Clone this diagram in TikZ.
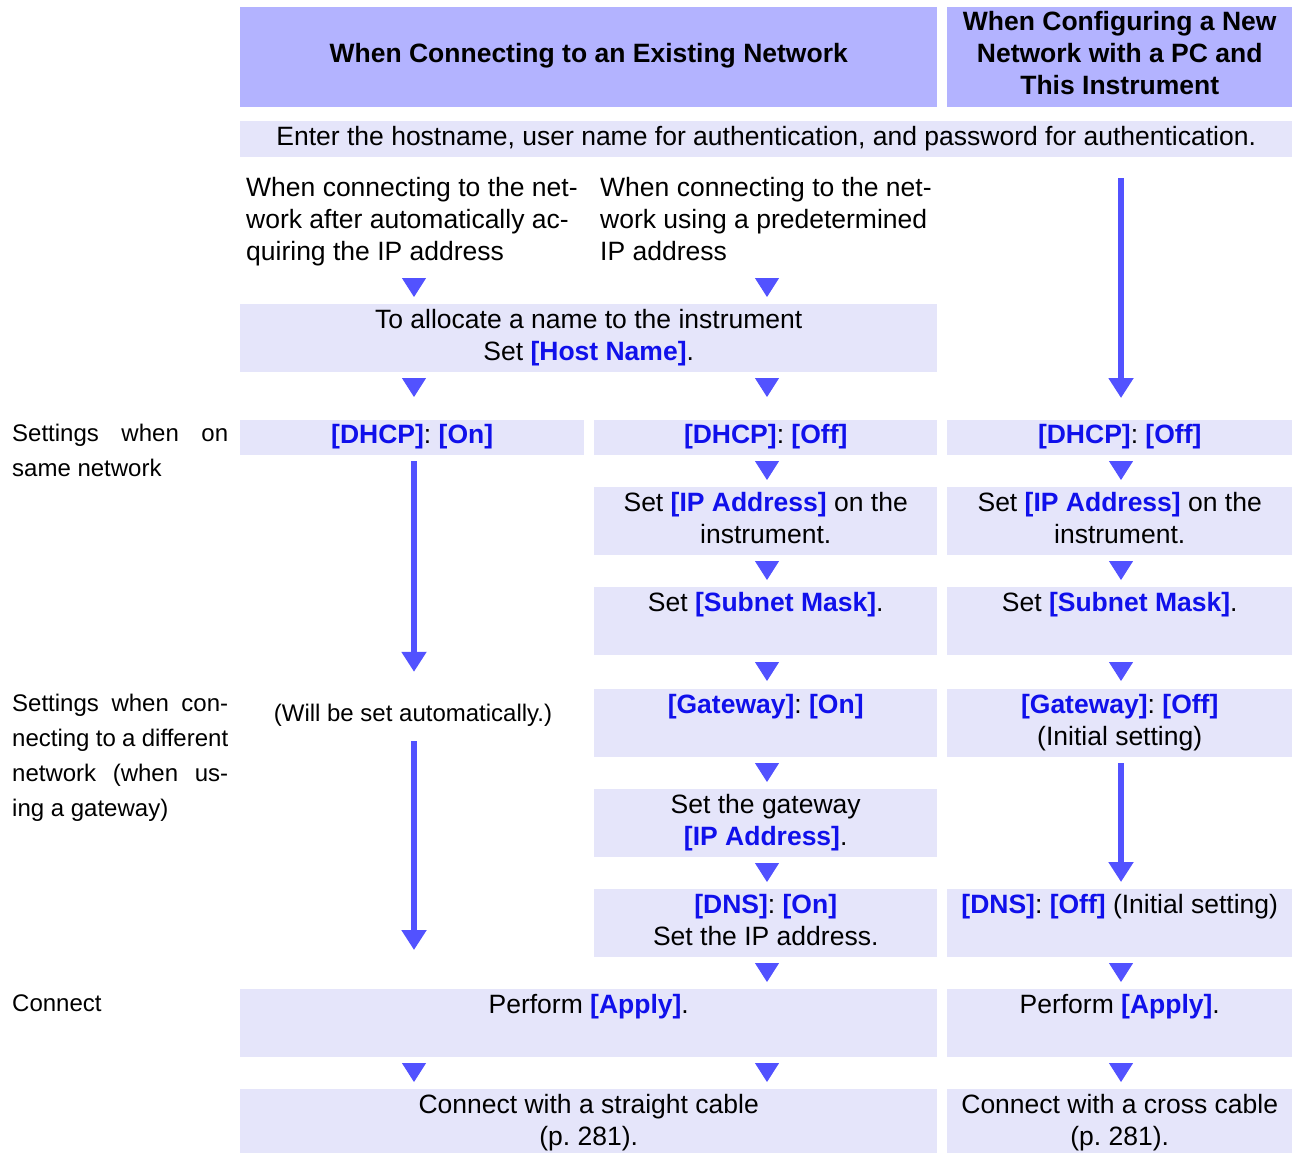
\documentclass[tikz,border=0pt]{standalone}
\usepackage{fontspec}
\setmainfont{Liberation Sans}
\usetikzlibrary{arrows.meta}
\frenchspacing
\definecolor{hdr}{RGB}{179,179,255}
\definecolor{bxf}{RGB}{229,229,250}
\definecolor{arr}{RGB}{82,82,255}
\definecolor{kblue}{RGB}{16,16,235}
\newcommand\kb[1]{\textbf{\color{kblue}#1}}
\newcommand\bxt[4]{\parbox[c][#2][t]{#1}{\centering\rule{0pt}{#3}#4\par}}
\tikzset{
  box/.style={fill=bxf, inner sep=0pt, anchor=north west},
  hbox/.style={fill=hdr, inner sep=0pt, anchor=north west, font=\fontsize{26.5pt}{32pt}\selectfont\bfseries},
  tri/.style={arr, line width=1pt, -{Triangle[width=24pt,length=19pt]}},
  longarr/.style={arr, line width=6pt, -{Triangle[width=24pt,length=20pt]}},
  lbl/.style={inner sep=0pt, anchor=base west, font=\fontsize{24pt}{35pt}\selectfont},
  desc/.style={inner sep=0pt, anchor=base west, text depth=72pt},
}
\begin{document}
\begin{tikzpicture}[x=1pt, y=-1pt, font=\fontsize{26.5pt}{32pt}\selectfont]
\useasboundingbox (0,0) rectangle (1292,1153);
\fill[white] (0,0) rectangle (1292,1153);
\coordinate (cL) at (414,0);
\coordinate (cM) at (767,0);
\coordinate (cR) at (1121,0);

% headers
\node[hbox] (hdrL) at (240,7) {\bxt{697pt}{100pt}{55.5pt}{When Connecting to an Existing Network}};
\node[hbox] (hdrR) at (947,7) {\bxt{345pt}{100pt}{23.5pt}{When Configuring a New\\Network with a PC and\\This Instrument}};
\node[box] (host) at (240,121) {\bxt{1052pt}{36pt}{24pt}{Enter the hostname, user name for authentication, and password for authentication.}};

% descriptions
\node[desc] (descL) at (246,196) {\parbox[t]{340pt}{\raggedright When connecting to the net-\\work after automatically ac-\\quiring the IP address}};
\node[desc] (descM) at (600,196) {\parbox[t]{337pt}{\raggedright When connecting to the net-\\work using a predetermined\\IP address}};

\node[box] (hostnm) at (240,304) {\bxt{697pt}{68pt}{24pt}{To allocate a name to the instrument\\Set \kb{[Host Name]}.}};

% DHCP row
\node[box] (dhcpOn) at (240,420) {\bxt{344pt}{35pt}{23.5pt}{\kb{[DHCP]}: \kb{[On]}}};
\node[box] (dhcpM) at (594,420) {\bxt{343pt}{35pt}{23.5pt}{\kb{[DHCP]}: \kb{[Off]}}};
\node[box] (dhcpR) at (947,420) {\bxt{345pt}{35pt}{23.5pt}{\kb{[DHCP]}: \kb{[Off]}}};

\node[box] (ipM) at (594,487) {\bxt{343pt}{68pt}{24pt}{Set \kb{[IP Address]} on the\\instrument.}};
\node[box] (ipR) at (947,487) {\bxt{345pt}{68pt}{24pt}{Set \kb{[IP Address]} on the\\instrument.}};

\node[box] (subM) at (594,587) {\bxt{343pt}{68pt}{24pt}{Set \kb{[Subnet Mask]}.}};
\node[box] (subR) at (947,587) {\bxt{345pt}{68pt}{24pt}{Set \kb{[Subnet Mask]}.}};

\node[box] (gwM) at (594,689) {\bxt{343pt}{68pt}{24pt}{\kb{[Gateway]}: \kb{[On]}}};
\node[box] (gwR) at (947,689) {\bxt{345pt}{68pt}{24pt}{\kb{[Gateway]}: \kb{[Off]}\\(Initial setting)}};

\node[inner sep=0pt, anchor=base, text height=20pt, text depth=6pt, font=\fontsize{24pt}{30pt}\selectfont] (auto) at (413,721) {(Will be set automatically.)};

\node[box] (gwipM) at (594,789) {\bxt{343pt}{68pt}{24pt}{Set the gateway\\\kb{[IP Address]}.}};

\node[box] (dnsM) at (594,889) {\bxt{343pt}{68pt}{24pt}{\kb{[DNS]}: \kb{[On]}\\Set the IP address.}};
\node[box] (dnsR) at (947,889) {\bxt{345pt}{68pt}{24pt}{\kb{[DNS]}: \kb{[Off]} (Initial setting)}};

\node[box] (applyL) at (240,989) {\bxt{697pt}{68pt}{24pt}{Perform \kb{[Apply]}.}};
\node[box] (applyR) at (947,989) {\bxt{345pt}{68pt}{24pt}{Perform \kb{[Apply]}.}};

\node[box] (cableL) at (240,1089) {\bxt{697pt}{64pt}{24pt}{Connect with a straight cable\\(p. 281).}};
\node[box] (cableR) at (947,1089) {\bxt{345pt}{64pt}{24pt}{Connect with a cross cable\\(p. 281).}};

% left labels
\node[lbl] (lblSame) at (12,441) {\parbox[t]{216pt}{\makebox[216pt][s]{Settings when on}\\same network}};
\node[lbl] (lblDiff) at (12,711) {\parbox[t]{216pt}{\makebox[216pt][s]{Settings when con-}\\\makebox[216pt][s]{necting to a different}\\\makebox[216pt][s]{network (when us-}\\ing a gateway)}};
\node[lbl] (lblConn) at (12,1011) {Connect};

% small triangles
\draw[tri, shorten <=10pt, shorten >=7pt] (descL.south -| cL) -- (hostnm.north -| cL);
\draw[tri, shorten <=10pt, shorten >=7pt] (descM.south -| cM) -- (hostnm.north -| cM);
\draw[tri, shorten <=6pt, shorten >=23pt] (hostnm.south -| cL) -- (dhcpOn.north -| cL);
\draw[tri, shorten <=6pt, shorten >=23pt] (hostnm.south -| cM) -- (dhcpM.north -| cM);
\draw[tri, shorten <=6pt, shorten >=7pt] (dhcpM.south -| cM) -- (ipM.north -| cM);
\draw[tri, shorten <=6pt, shorten >=7pt] (dhcpR.south -| cR) -- (ipR.north -| cR);
\draw[tri, shorten <=6pt, shorten >=7pt] (ipM.south -| cM) -- (subM.north -| cM);
\draw[tri, shorten <=6pt, shorten >=7pt] (ipR.south -| cR) -- (subR.north -| cR);
\draw[tri, shorten <=7pt, shorten >=8pt] (subM.south -| cM) -- (gwM.north -| cM);
\draw[tri, shorten <=7pt, shorten >=8pt] (subR.south -| cR) -- (gwR.north -| cR);
\draw[tri, shorten <=6pt, shorten >=7pt] (gwM.south -| cM) -- (gwipM.north -| cM);
\draw[tri, shorten <=6pt, shorten >=7pt] (gwipM.south -| cM) -- (dnsM.north -| cM);
\draw[tri, shorten <=6pt, shorten >=7pt] (dnsM.south -| cM) -- (applyL.north -| cM);
\draw[tri, shorten <=6pt, shorten >=7pt] (dnsR.south -| cR) -- (applyR.north -| cR);
\draw[tri, shorten <=6pt, shorten >=7pt] (applyL.south -| cL) -- (cableL.north -| cL);
\draw[tri, shorten <=6pt, shorten >=7pt] (applyL.south -| cM) -- (cableL.north -| cM);
\draw[tri, shorten <=6pt, shorten >=7pt] (applyR.south -| cR) -- (cableR.north -| cR);

% long arrows
\draw[longarr, shorten <=6pt, shorten >=29pt] (dhcpOn.south -| cL) -- (auto.north -| cL);
\draw[longarr, shorten <=14pt, shorten >=39pt] (auto.south -| cL) -- (applyL.north -| cL);
\draw[longarr, shorten <=21pt, shorten >=22pt] (host.south -| cR) -- (dhcpR.north -| cR);
\draw[longarr, shorten <=6pt, shorten >=7pt] (gwR.south -| cR) -- (dnsR.north -| cR);
\end{tikzpicture}
\end{document}
